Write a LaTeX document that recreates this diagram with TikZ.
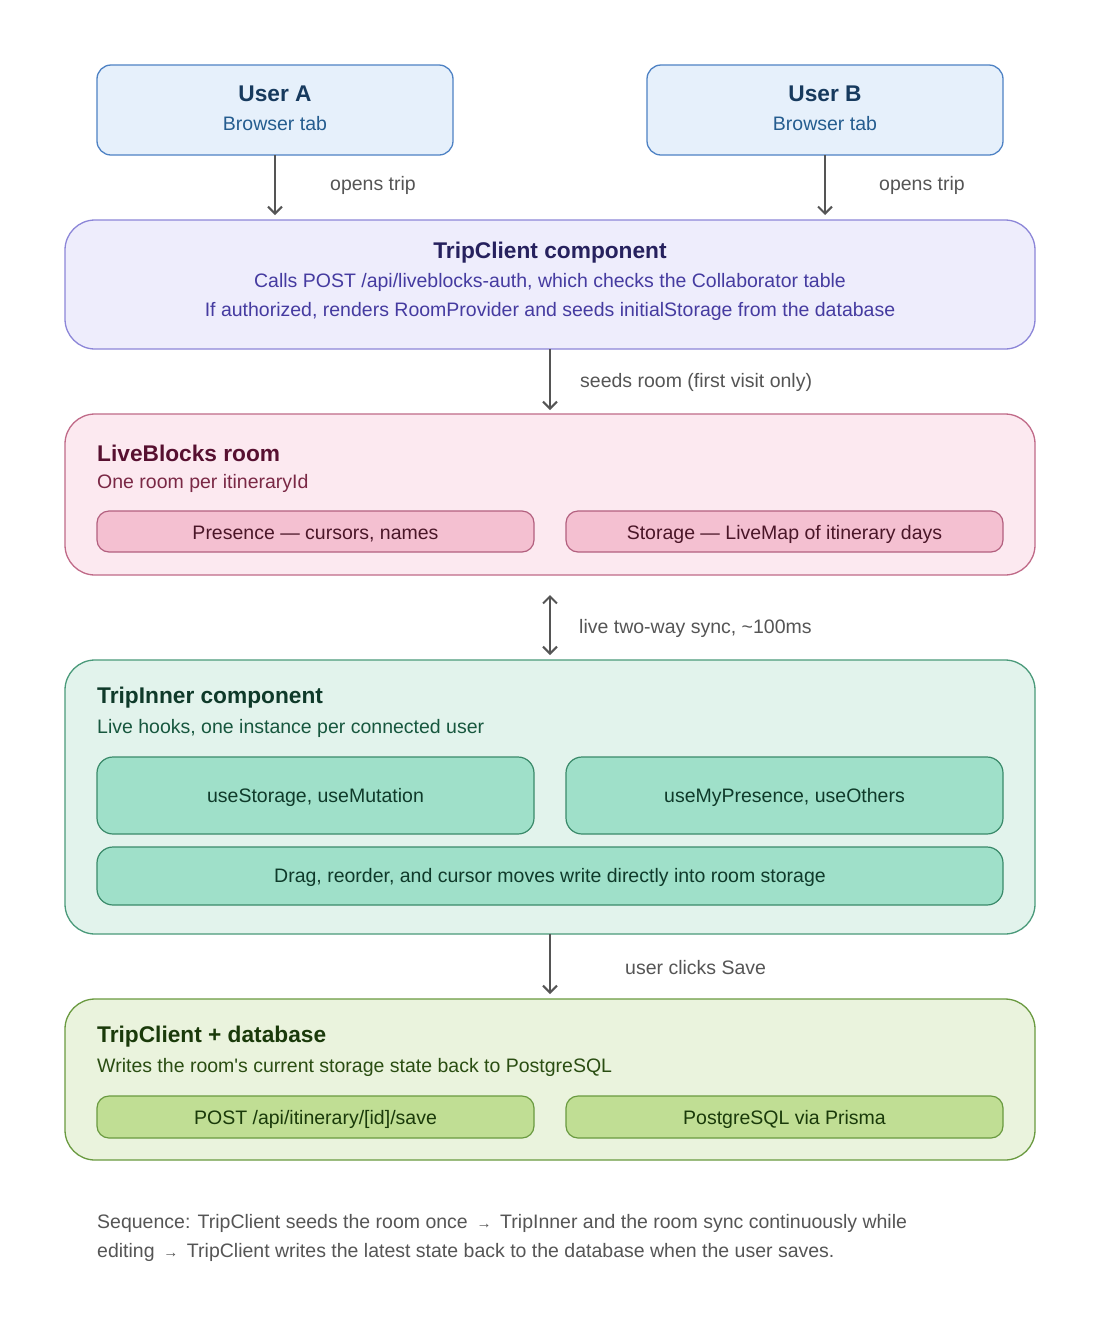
\documentclass[tikz,border=0pt]{standalone}
\usepackage{fontspec}
\setmainfont{Liberation Sans}
\usetikzlibrary{arrows.meta}
\definecolor{blueFill}{HTML}{E6F0FB}
\definecolor{blueLine}{HTML}{4E82C4}
\definecolor{blueTitle}{HTML}{173A5E}
\definecolor{blueText}{HTML}{245C8F}
\definecolor{purFill}{HTML}{EEEDFC}
\definecolor{purLine}{HTML}{8C86D8}
\definecolor{purTitle}{HTML}{26215E}
\definecolor{purText}{HTML}{453BA0}
\definecolor{pinkFill}{HTML}{FCE9F0}
\definecolor{pinkLine}{HTML}{C06A88}
\definecolor{pinkTitle}{HTML}{571030}
\definecolor{pinkText}{HTML}{7A2845}
\definecolor{pinkPill}{HTML}{F4C0D1}
\definecolor{pinkPillLine}{HTML}{B3607F}
\definecolor{pinkPillText}{HTML}{4A1628}
\definecolor{grnFill}{HTML}{E2F3EC}
\definecolor{grnLine}{HTML}{4A9A7A}
\definecolor{grnTitle}{HTML}{0F3A2A}
\definecolor{grnText}{HTML}{17573E}
\definecolor{grnPill}{HTML}{9FE0C9}
\definecolor{grnPillLine}{HTML}{3A8A6A}
\definecolor{limFill}{HTML}{EAF3DD}
\definecolor{limLine}{HTML}{6A9A40}
\definecolor{limTitle}{HTML}{1A3A0A}
\definecolor{limText}{HTML}{2A4D12}
\definecolor{limPill}{HTML}{C0DE94}
\definecolor{arrGray}{HTML}{555555}
\definecolor{lblGray}{HTML}{555555}
\begin{document}
\begin{tikzpicture}[x=1pt,y=-1pt,
  box/.style={rounded corners=14pt, line width=1.3pt, inner sep=0pt, outer sep=0pt},
  bigbox/.style={rounded corners=30pt, line width=1.3pt, inner sep=0pt, outer sep=0pt, minimum width=970pt},
  pill/.style={rounded corners=12pt, line width=1.2pt, inner sep=0pt, outer sep=0pt},
  ptxt/.style={inner sep=0pt, yshift=-2.5pt, font=\fontsize{19.5}{23}\selectfont},
  ttl/.style={inner sep=0pt, font=\fontsize{22.7}{27}\selectfont\bfseries},
  txt/.style={inner sep=0pt, font=\fontsize{19.5}{23}\selectfont},
  lbl/.style={inner sep=0pt, anchor=west, text=lblGray, font=\fontsize{19.5}{23}\selectfont},
  arr/.style={draw=arrGray, line width=2pt, -{Straight Barb[length=7pt,width=14pt,line width=2pt]}},
  darr/.style={draw=arrGray, line width=2pt, {Straight Barb[length=7pt,width=14pt,line width=2pt]}-{Straight Barb[length=7pt,width=14pt,line width=2pt]}}
]
\useasboundingbox[fill=white] (0,0) rectangle (1100,1326);

% users
\node[box, fill=blueFill, draw=blueLine, minimum width=356pt, minimum height=90pt] (ua) at (275,110) {};
\node[ttl, text=blueTitle] (uat) at (275,94) {User A};
\node[txt, text=blueText] (uas) at (275,124) {Browser tab};
\node[box, fill=blueFill, draw=blueLine, minimum width=356pt, minimum height=90pt] (ub) at (825,110) {};
\node[ttl, text=blueTitle] (ubt) at (825,94) {User B};
\node[txt, text=blueText] (ubs) at (825,124) {Browser tab};

% TripClient
\node[bigbox, fill=purFill, draw=purLine, minimum height=129pt] (tc) at (550,284.5) {};
\node[ttl, text=purTitle] (tct) at (550,252.5) {TripClient component};
\node[txt, text=purText] (tc1) at (550,282.5) {Calls POST /api/liveblocks-auth, which checks the Collaborator table};
\node[txt, text=purText] (tc2) at (550,311.5) {If authorized, renders RoomProvider and seeds initialStorage from the database};

\coordinate (ta) at (275,215);
\coordinate (tb) at (825,215);
\draw[arr] (ua.south) -- (ta);
\draw[arr] (ub.south) -- (tb);
\node[lbl] (l1) at (330,185.5) {opens trip};
\node[lbl] (l2) at (879,185.5) {opens trip};

% LiveBlocks
\node[bigbox, fill=pinkFill, draw=pinkLine, minimum height=161pt] (lb) at (550,494.5) {};
\node[ttl, text=pinkTitle, anchor=west] (lbt) at (97,453) {LiveBlocks room};
\node[txt, text=pinkText, anchor=west] (lbs) at (97,483.5) {One room per itineraryId};
\node[pill, fill=pinkPill, draw=pinkPillLine, minimum width=437pt, minimum height=41pt] (p1) at (315.5,531.5) {};
\node[ptxt, text=pinkPillText] (p1t) at (p1.center) {Presence — cursors, names};
\node[pill, fill=pinkPill, draw=pinkPillLine, minimum width=437pt, minimum height=41pt] (p2) at (784.5,531.5) {};
\node[ptxt, text=pinkPillText] (p2t) at (p2.center) {Storage — LiveMap of itinerary days};

\coordinate (sa) at (550,410);
\draw[arr] (tc.south) -- (sa);
\node[lbl] (l3) at (580,382.5) {seeds room (first visit only)};

% TripInner
\node[bigbox, fill=grnFill, draw=grnLine, minimum height=274pt] (ti) at (550,797) {};
\node[ttl, text=grnTitle, anchor=west] (tit) at (97,698) {TripInner component};
\node[txt, text=grnText, anchor=west] (tis) at (97,728.5) {Live hooks, one instance per connected user};
\node[pill, rounded corners=16pt, fill=grnPill, draw=grnPillLine, minimum width=437pt, minimum height=77pt] (g1) at (315.5,795.5) {};
\node[ptxt, text=grnTitle, yshift=0.5pt] (g1t) at (g1.center) {useStorage, useMutation};
\node[pill, rounded corners=16pt, fill=grnPill, draw=grnPillLine, minimum width=437pt, minimum height=77pt] (g2) at (784.5,795.5) {};
\node[ptxt, text=grnTitle, yshift=0.5pt] (g2t) at (g2.center) {useMyPresence, useOthers};
\node[pill, rounded corners=16pt, fill=grnPill, draw=grnPillLine, minimum width=906pt, minimum height=58pt] (g3) at (550,876) {};
\node[ptxt, text=grnTitle, yshift=1pt] (g3t) at (g3.center) {Drag, reorder, and cursor moves write directly into room storage};

\coordinate (da) at (550,595);
\coordinate (db) at (550,655);
\draw[darr] (da) -- (db);
\node[lbl] (l4) at (579,628.5) {live two-way sync, \textasciitilde100ms};

% TripClient + database
\node[bigbox, fill=limFill, draw=limLine, minimum height=161pt] (db2) at (550,1079.5) {};
\node[ttl, text=limTitle, anchor=west] (dbt) at (97,1037) {TripClient + database};
\node[txt, text=limText, anchor=west] (dbs) at (97,1067.5) {Writes the room\textquotesingle s current storage state back to PostgreSQL};
\node[pill, fill=limPill, draw=limLine, minimum width=437pt, minimum height=42pt] (q1) at (315.5,1117) {};
\node[ptxt, text=limTitle, yshift=0.5pt] (q1t) at (q1.center) {POST /api/itinerary/[id]/save};
\node[pill, fill=limPill, draw=limLine, minimum width=437pt, minimum height=42pt] (q2) at (784.5,1117) {};
\node[ptxt, text=limTitle, yshift=0.5pt] (q2t) at (q2.center) {PostgreSQL via Prisma};

\coordinate (ea) at (550,994);
\draw[arr] (ti.south) -- (ea);
\node[lbl] (l5) at (625,967.5) {user clicks Save};

% footer
\node[lbl] (f1) at (97,1223.5) {Sequence: TripClient seeds the room once\, {\fontsize{15}{16}\selectfont →}\, TripInner and the room sync continuously while};
\node[lbl] (f2) at (97,1252.5) {editing\, {\fontsize{15}{16}\selectfont →}\, TripClient writes the latest state back to the database when the user saves.};
\end{tikzpicture}
\end{document}
